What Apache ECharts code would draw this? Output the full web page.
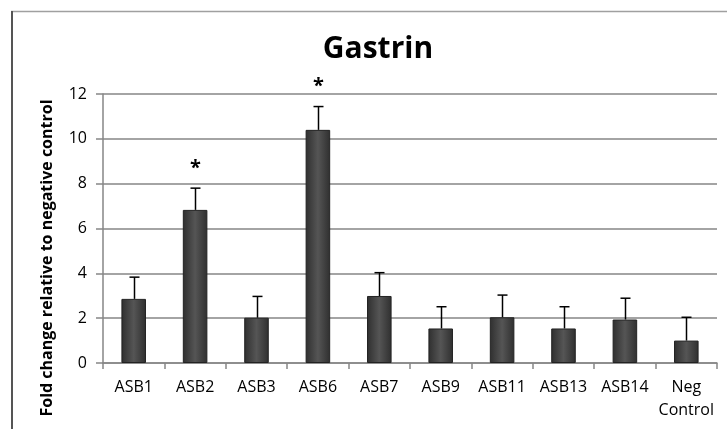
<!DOCTYPE html>
<html><head><meta charset="utf-8">
<script src="https://cdn.jsdelivr.net/npm/echarts@6/dist/echarts.min.js"></script>
<style>html,body{margin:0;padding:0;background:#fff}#c{width:727px;height:429px}</style>
</head><body><div id="c"></div>
<script>
const categories = ['ASB1','ASB2','ASB3','ASB6','ASB7','ASB9','ASB11','ASB13','ASB14','Neg\nControl'];
const values = [2.86, 6.83, 2.02, 10.4, 2.99, 1.54, 2.04, 1.54, 1.94, 1.0];
const errors = [0.97, 0.97, 0.95, 1.04, 1.04, 0.97, 0.99, 0.97, 0.95, 1.04];
const significant = [false, true, false, true, false, false, false, false, false, false];
const yTicks = [0, 2, 4, 6, 8, 10, 12];

const FONT = '"Open Sans", Lato, sans-serif';
const chart = echarts.init(document.getElementById('c'), null, {renderer: 'canvas'});
chart.setOption({
  animation: false,
  backgroundColor: '#fff',
  title: {
    text: 'Gastrin', left: 373, top: 29, textAlign: 'center',
    textStyle: {fontFamily: FONT, fontWeight: 'bold', fontSize: 30, color: '#000'}
  },
  grid: {left: 103, right: 10, top: 94, bottom: 66},
  xAxis: {
    type: 'category', data: categories,
    axisLine: {lineStyle: {color: '#868686', width: 1.5}},
    axisTick: {show: true, length: 6, alignWithLabel: false, lineStyle: {color: '#868686', width: 1.5}},
    axisLabel: {fontFamily: FONT, fontSize: 16, fontWeight: 500, color: '#000', margin: 13, lineHeight: 23, interval: 0}
  },
  yAxis: {
    type: 'value', min: yTicks[0], max: yTicks[yTicks.length - 1], interval: 2,
    axisLine: {show: true, lineStyle: {color: '#868686', width: 1.5}},
    axisTick: {show: true, length: 7, lineStyle: {color: '#868686', width: 1.5}},
    splitLine: {lineStyle: {color: '#868686', width: 1.5}},
    axisLabel: {fontFamily: FONT, fontSize: 16, fontWeight: 500, color: '#000', margin: 16}
  },
  graphic: [
    {type: 'line', shape: {x1: 11, y1: 11.5, x2: 727, y2: 11.5}, style: {stroke: '#a0a0a0', lineWidth: 1.5}, z: 10},
    {type: 'line', shape: {x1: 12, y1: 11, x2: 12, y2: 429}, style: {stroke: '#555', lineWidth: 2}, z: 10},
    {type: 'text', x: 47, y: 258, rotation: Math.PI / 2,
      style: {text: 'Fold change relative to negative control', fontFamily: FONT, fontWeight: 'bold', fontSize: 16, fill: '#000', textAlign: 'center', textVerticalAlign: 'middle'}}
  ],
  series: [
    {
      type: 'bar', data: values, barWidth: '40%',
      itemStyle: {
        color: new echarts.graphic.LinearGradient(0, 0, 1, 0, [
          {offset: 0, color: '#2f2f2f'}, {offset: 0.5, color: '#555555'}, {offset: 1, color: '#2f2f2f'}
        ]),
        borderColor: '#222', borderWidth: 1
      },
      z: 2
    },
    {
      type: 'custom',
      data: values.map((v, i) => [i, v, errors[i], significant[i] ? 1 : 0]),
      renderItem: function (params, api) {
        const i = api.value(0), v = api.value(1), e = api.value(2), s = api.value(3);
        const p0 = api.coord([i, v]);
        const p1 = api.coord([i, v + e]);
        const x = Math.round(p0[0]) + 0.5;
        const children = [
          {type: 'line', shape: {x1: x, y1: p0[1], x2: x, y2: p1[1]}, style: {stroke: '#000', lineWidth: 1.5}},
          {type: 'line', shape: {x1: x - 5, y1: p1[1], x2: x + 5, y2: p1[1]}, style: {stroke: '#000', lineWidth: 1.5}}
        ];
        if (s) {
          children.push({type: 'text', x: x, y: p1[1] - 20,
            style: {text: '*', fontFamily: FONT, fontWeight: 'bold', fontSize: 20, fill: '#000', textAlign: 'center', textVerticalAlign: 'middle'}});
        }
        return {type: 'group', children: children};
      },
      z: 3
    }
  ]
});
</script></body></html>
